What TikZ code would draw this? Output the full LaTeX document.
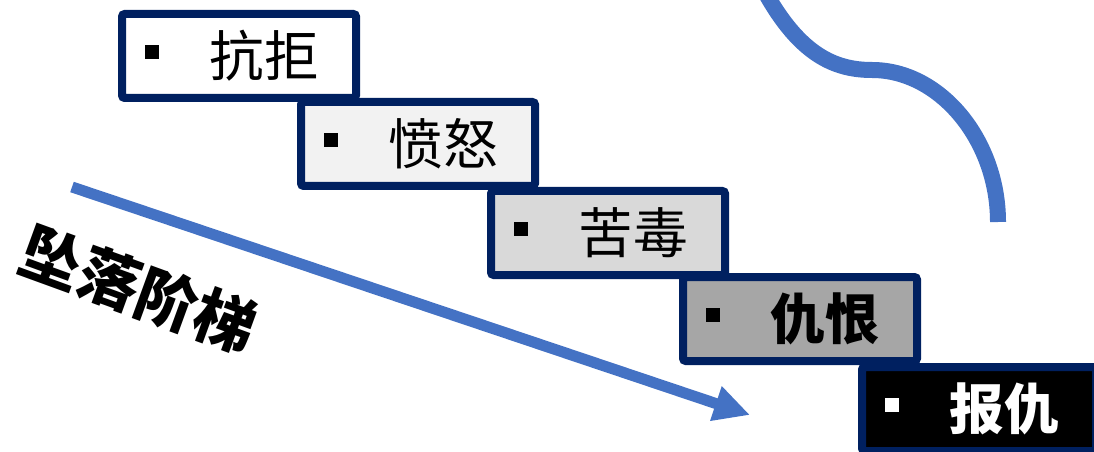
\documentclass[tikz,border=0pt]{standalone}
\usepackage{fontspec}
\newfontfamily\cjk{Noto Sans CJK SC}
\usetikzlibrary{arrows.meta}
\definecolor{navy}{HTML}{002060}
\definecolor{office}{HTML}{4472C4}
\definecolor{stepA}{HTML}{F2F2F2}
\definecolor{stepB}{HTML}{D9D9D9}
\definecolor{stepC}{HTML}{A6A6A6}
\newcommand{\bul}{\rule[13.3pt]{10.5pt}{10.5pt}\hspace{38pt}}
\newcommand{\cjkb}{\cjk\bfseries}
\begin{document}
\begin{tikzpicture}[x=0.75pt,y=-0.75pt]
	\tikzset{stepbox/.style = {draw = navy, line width = 6pt, rounded corners = 2pt,
		anchor = north west, outer sep = 0pt, inner xsep = 17.25pt,
		text width = 141pt, minimum height = 63pt, align = left}}
	\tikzset{bluepen/.style = {office, line cap = butt}}
	\clip (0,0) rectangle (1094,452);
	\useasboundingbox (0,0) rectangle (1094,452);
	% the five steps, top left to bottom right
	\foreach \n/\x/\y/\fc/\tc/\ft/\lbl in {1/122/14/white/black/\cjk/抗拒, 2/301/102/stepA/black/\cjk/愤怒, 3/491/191/stepB/black/\cjk/苦毒, 4/683/277/stepC/black/\cjkb/仇恨, 5/862/367/black/white/\cjkb/报仇}
	{
		\node [stepbox, fill = \fc, text = \tc, font = \ft\fontsize{41}{41}\selectfont] (s\n) at (\x,\y) {\bul\lbl};
	}
	% falling arrow
	\coordinate (a0) at (72,187);
	\coordinate (a1) at (750,415);
	\draw [bluepen, line width = 8.25pt, -{Triangle[width = 25.5pt, length = 27pt]}] (a0) -- (a1);
	\node [rotate = -20, font = \cjkb\fontsize{46}{46}\selectfont] (fall) at (139,289) {坠落阶梯};
	% curve top right
	\coordinate (c0) at (765,-8);
	\coordinate (c1) at (872,70);
	\coordinate (c2) at (998,222);
	\draw [bluepen, line width = 12pt] (c0) .. controls (800,55) and (835,70) .. (c1) .. controls (940,70) and (998,140) .. (c2);
\end{tikzpicture}
\end{document}
